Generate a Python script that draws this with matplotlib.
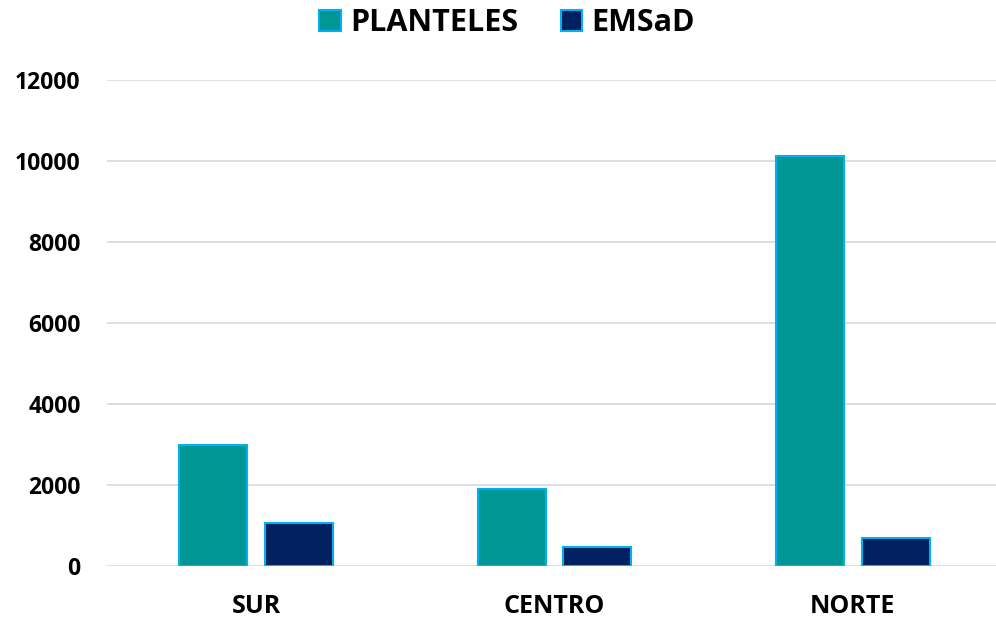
import numpy as np
import matplotlib
matplotlib.use("Agg")
import matplotlib.pyplot as plt

# datos
regiones = ["SUR", "CENTRO", "NORTE"]
planteles = [3000, 1900, 10120]
emsad = [1060, 460, 680]
y_ticks = [0, 2000, 4000, 6000, 8000, 10000, 12000]

plt.rcParams['font.family'] = ['Open Sans', 'DejaVu Sans']

fig = plt.figure(figsize=(9.96, 6.19), dpi=100)
ax = fig.add_axes([107 / 996, 1 - 566 / 619, (1002 - 107) / 996, (566 - 80) / 619])

x = np.arange(len(regiones))
ancho = 0.228
sep = 0.059
ax.bar(x - (ancho + sep) / 2, planteles, ancho, color="#009696", edgecolor="#00B0F0",
       linewidth=1.5, label="PLANTELES", zorder=3)
ax.bar(x + (ancho + sep) / 2, emsad, ancho, color="#002060", edgecolor="#00B0F0",
       linewidth=1.5, label="EMSaD", zorder=3)

ax.set_xlim(-0.5, 2.5)
ax.set_ylim(0, 12000)
ax.set_yticks(y_ticks)
ax.set_yticklabels([str(v) for v in y_ticks], fontsize=16.5, fontweight="bold")
ax.set_xticks(x)
ax.set_xticklabels(regiones, fontsize=18, fontweight="bold")
ax.tick_params(length=0)
ax.tick_params(axis="y", pad=19)
ax.tick_params(axis="x", pad=20)
ax.grid(axis="y", color="#d9d9d9", linewidth=1.2, zorder=0)
for s in ax.spines.values():
    s.set_visible(False)

ax.legend(loc="center", bbox_to_anchor=(507 / 996, 1 - 23 / 619), bbox_transform=fig.transFigure,
          ncol=2, frameon=False,
          prop={"size": 22, "weight": "bold"}, handlelength=0.7, handleheight=0.7,
          columnspacing=1.4, handletextpad=0.3)

fig.savefig("out.png", dpi=100)
